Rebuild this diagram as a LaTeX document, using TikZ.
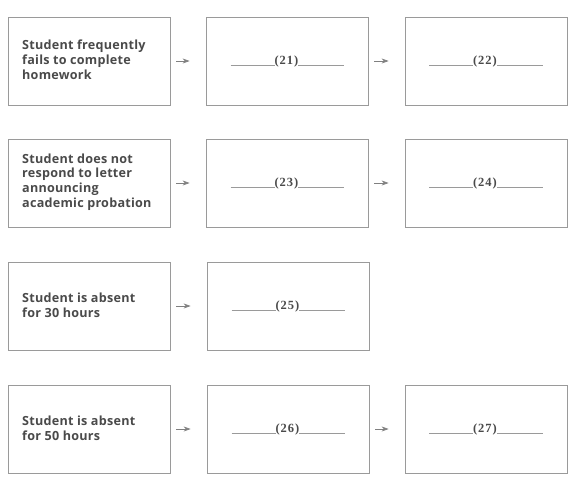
\documentclass[tikz,border=0pt]{standalone}
\usepackage{fontspec}
\setmainfont{Liberation Serif}
\newfontfamily\boxfont[LetterSpace=2]{Open Sans}
\newfontfamily\numfont[LetterSpace=8]{Liberation Serif}
\usetikzlibrary{arrows.meta}
\definecolor{boxline}{HTML}{9A9A9A}
\definecolor{txt}{HTML}{4A4A4A}
\tikzset{
  x=1pt,y=-1pt,
  stepbox/.style={draw=boxline,line width=0.8pt,minimum width=162pt,minimum height=88pt,inner sep=0pt},
  cause/.style={anchor=west,align=left,text=txt,font=\boxfont\bfseries\fontsize{12.6}{14.8}\selectfont,inner sep=0pt},
  blank/.style={anchor=base,text=txt,font=\numfont\bfseries\fontsize{12.5}{13}\selectfont,inner sep=0pt},
  flow/.style={draw=gray,line width=0.7pt,-{Stealth[length=7pt,width=5pt]},shorten <=6pt,shorten >=16pt}
}
\newcommand{\gap}[1]{{\color{boxline}\rule[-1.4pt]{44pt}{0.7pt}}(#1){\color{boxline}\rule[-1.4pt]{46pt}{0.7pt}}}
\begin{document}
\begin{tikzpicture}
\useasboundingbox[fill=white] (0,0) rectangle (584,496);
% boxes
\node[stepbox] (a1) at (89,61) {};
\node[stepbox] (a2) at (287,61) {};
\node[stepbox] (a3) at (486,61) {};
\node[stepbox] (b1) at (89,183) {};
\node[stepbox] (b2) at (287,183) {};
\node[stepbox] (b3) at (486,183) {};
\node[stepbox] (c1) at (89,306) {};
\node[stepbox] (c2) at (288,306) {};
\node[stepbox] (d1) at (89,429) {};
\node[stepbox] (d2) at (288,429) {};
\node[stepbox] (d3) at (486,429) {};
% texts
\node[cause] (ta1) at (22,60) {Student frequently\\fails to complete\\homework};
\node[cause] (tb1) at (22,182) {Student does not\\respond to letter\\announcing\\academic probation};
\node[cause] (tc1) at (22,305) {Student is absent\\for 30 hours};
\node[cause] (td1) at (22,428) {Student is absent\\for 50 hours};
\node[blank] (ta2) at (287.5,64.3) {\gap{21}};
\node[blank] (ta3) at (486,64.3) {\gap{22}};
\node[blank] (tb2) at (287.5,186.3) {\gap{23}};
\node[blank] (tb3) at (486,186.3) {\gap{24}};
\node[blank] (tc2) at (288.5,309.3) {\gap{25}};
\node[blank] (td2) at (288.5,432.3) {\gap{26}};
\node[blank] (td3) at (486,432.3) {\gap{27}};
% arrows
\draw[flow] (a1) -- (a2);
\draw[flow] (a2) -- (a3);
\draw[flow] (b1) -- (b2);
\draw[flow] (b2) -- (b3);
\draw[flow] (c1) -- (c2);
\draw[flow] (d1) -- (d2);
\draw[flow] (d2) -- (d3);
\end{tikzpicture}
\end{document}
